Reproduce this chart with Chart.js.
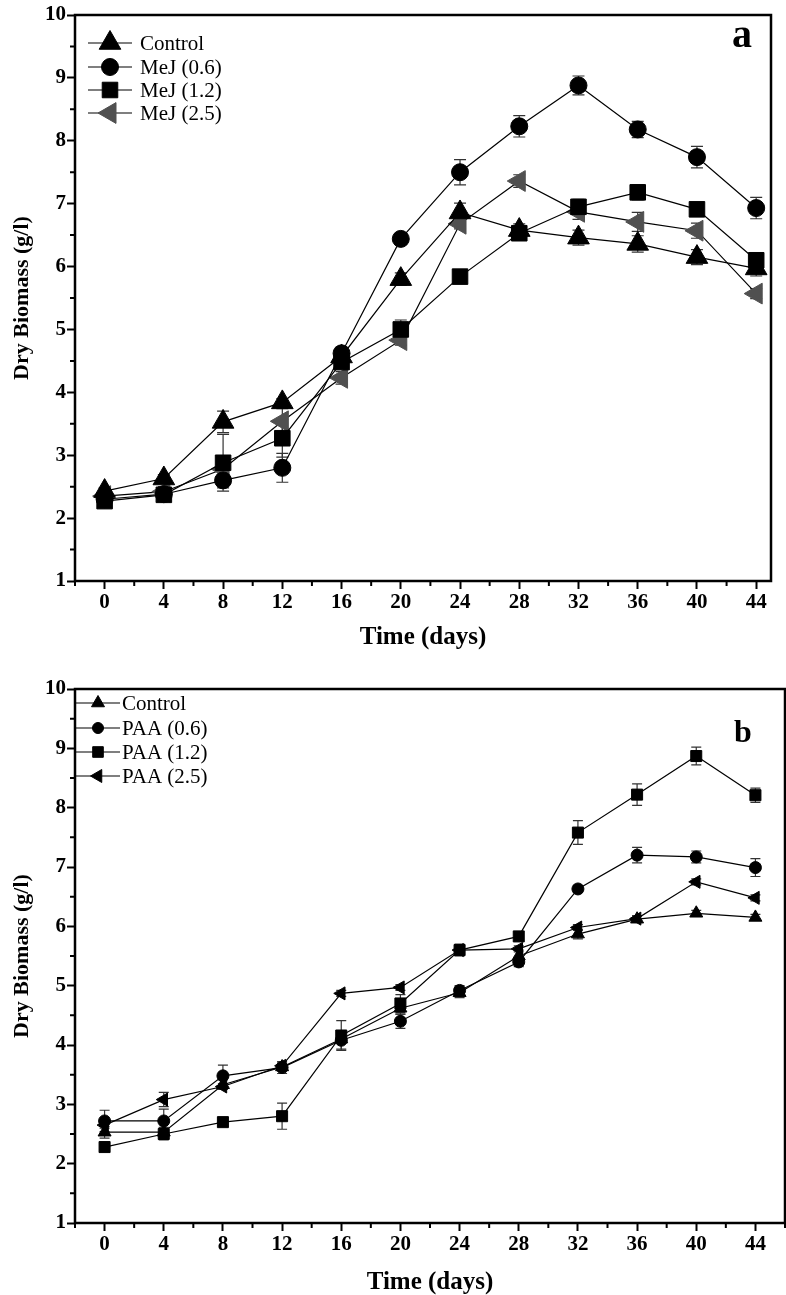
<!DOCTYPE html>
<html><head><meta charset="utf-8">
<script src="https://cdn.jsdelivr.net/npm/chart.js@4.4.1/dist/chart.umd.min.js"></script>
<style>
html,body{margin:0;padding:0;background:#fff;width:786px;height:1295px;overflow:hidden}
canvas{position:absolute;left:0;display:block}
#ca{top:0}#cb{top:650px}
</style></head><body>
<canvas id="ca" width="786" height="650" style="width:786px;height:650px"></canvas>
<canvas id="cb" width="786" height="645" style="width:786px;height:645px"></canvas>
<script>
// ---- data ----
const DAYS = [0, 4, 8, 12, 16, 20, 24, 28, 32, 36, 40, 44];
const X_TICKS = [0, 4, 8, 12, 16, 20, 24, 28, 32, 36, 40, 44];
const Y_TICKS = [1, 2, 3, 4, 5, 6, 7, 8, 9, 10];

// Panel a
const LABELS_A = ['Control', 'MeJ (0.6)', 'MeJ (1.2)', 'MeJ (2.5)'];
const CONTROL_A = [2.43, 2.63, 3.53, 3.84, 4.57, 5.80, 6.86, 6.58, 6.46, 6.36, 6.15, 5.97];
const MEJ06_A   = [2.30, 2.38, 2.60, 2.80, 4.62, 6.44, 7.50, 8.23, 8.88, 8.18, 7.74, 6.93];
const MEJ12_A   = [2.27, 2.37, 2.88, 3.27, 4.48, 5.00, 5.84, 6.53, 6.95, 7.18, 6.91, 6.10];
const MEJ25_A   = [2.35, 2.42, 2.78, 3.54, 4.23, 4.83, 6.68, 7.36, 6.87, 6.71, 6.57, 5.57];
const CONTROL_A_ERR = [0.05, 0.06, 0.17, 0.06, 0.08, 0.10, 0.15, 0.10, 0.12, 0.13, 0.12, 0.12];
const MEJ06_A_ERR   = [0.05, 0.10, 0.12, 0.23, 0.10, 0.08, 0.20, 0.17, 0.15, 0.13, 0.17, 0.17];
const MEJ12_A_ERR   = [0.05, 0.08, 0.45, 0.30, 0.10, 0.15, 0.10, 0.07, 0.12, 0.12, 0.05, 0.08];
const MEJ25_A_ERR   = [0.05, 0.08, 0.12, 0.20, 0.10, 0.08, 0.08, 0.10, 0.12, 0.15, 0.12, 0.08];

// Panel b
const LABELS_B = ['Control', 'PAA (0.6)', 'PAA (1.2)', 'PAA (2.5)'];
const CONTROL_B = [2.53, 2.53, 3.33, 3.63, 4.10, 4.62, 4.88, 5.50, 5.87, 6.12, 6.22, 6.15];
const PAA06_B   = [2.72, 2.72, 3.48, 3.62, 4.08, 4.40, 4.92, 5.40, 6.63, 7.20, 7.17, 6.99];
const PAA12_B   = [2.28, 2.50, 2.70, 2.80, 4.16, 4.70, 5.60, 5.83, 7.58, 8.22, 8.87, 8.21];
const PAA25_B   = [2.65, 3.08, 3.30, 3.65, 4.87, 4.97, 5.60, 5.62, 5.98, 6.13, 6.75, 6.48];
const CONTROL_B_ERR = [0.10, 0.08, 0.08, 0.05, 0.05, 0.10, 0.08, 0.10, 0.08, 0.05, 0.05, 0.05];
const PAA06_B_ERR   = [0.18, 0.20, 0.18, 0.10, 0.15, 0.12, 0.08, 0.08, 0.06, 0.13, 0.10, 0.15];
const PAA12_B_ERR   = [0.05, 0.10, 0.05, 0.22, 0.25, 0.15, 0.10, 0.07, 0.20, 0.18, 0.15, 0.12];
const PAA25_B_ERR   = [0.05, 0.12, 0.05, 0.05, 0.05, 0.05, 0.08, 0.05, 0.05, 0.05, 0.05, 0.05];

// ---- rendering ----
const SERIF = '"Liberation Serif", "Times New Roman", serif';
const GRAY = '#505050';

function pts(vals) { return DAYS.map((d, i) => ({ x: d, y: vals[i] })); }

function drawGlyph(ctx, style, rot, r, x, y, color) {
  ctx.save();
  ctx.fillStyle = color; ctx.strokeStyle = color; ctx.lineWidth = 1;
  ctx.beginPath();
  if (style === 'circle') {
    ctx.arc(x, y, r, 0, Math.PI * 2);
  } else if (style === 'rect') {
    const s = Math.SQRT1_2 * r;
    ctx.rect(x - s, y - s, 2 * s, 2 * s);
  } else {
    let a = rot * Math.PI / 180;
    ctx.moveTo(x + Math.sin(a) * r, y - Math.cos(a) * r);
    a += 2 * Math.PI / 3;
    ctx.lineTo(x + Math.sin(a) * r, y - Math.cos(a) * r);
    a += 2 * Math.PI / 3;
    ctx.lineTo(x + Math.sin(a) * r, y - Math.cos(a) * r);
    ctx.closePath();
  }
  ctx.fill(); ctx.stroke();
  ctx.restore();
}

function buildChart(canvasId, p) {
  const datasets = p.series.map(s => ({
    label: s.label,
    data: pts(s.values),
    errors: s.err,
    borderColor: '#000',
    borderWidth: 1.2,
    backgroundColor: s.color,
    pointBackgroundColor: s.color,
    pointBorderColor: s.color,
    pointBorderWidth: 1,
    pointStyle: s.style,
    pointRotation: s.rot,
    pointRadius: s.r,
    legendR: s.lr,
    tension: 0,
    fill: false
  }));

  const plugins = [{
    id: 'errbars',
    beforeDatasetsDraw(chart) {
      const ctx = chart.ctx, xs = chart.scales.x, ys = chart.scales.y;
      ctx.save();
      ctx.strokeStyle = '#333'; ctx.lineWidth = 1.2;
      chart.data.datasets.forEach(ds => {
        ds.data.forEach((pt, i) => {
          const e = ds.errors[i];
          const x = xs.getPixelForValue(pt.x);
          const y1 = ys.getPixelForValue(pt.y + e), y2 = ys.getPixelForValue(pt.y - e);
          ctx.beginPath();
          ctx.moveTo(x, y1); ctx.lineTo(x, y2);
          ctx.moveTo(x - p.cap, y1); ctx.lineTo(x + p.cap, y1);
          ctx.moveTo(x - p.cap, y2); ctx.lineTo(x + p.cap, y2);
          ctx.stroke();
        });
      });
      ctx.restore();
    },
    afterDraw(chart) {
      const ctx = chart.ctx, a = chart.chartArea, xs = chart.scales.x, ys = chart.scales.y;
      ctx.save();
      // frame
      ctx.strokeStyle = '#000'; ctx.lineWidth = 2.5;
      ctx.strokeRect(a.left, a.top, a.right - a.left, a.bottom - a.top);
      // minor ticks
      ctx.lineWidth = 2;
      ctx.beginPath();
      for (let v = -2; v <= xs.max + 0.01; v += 4) {
        const x = xs.getPixelForValue(v);
        ctx.moveTo(x, a.bottom); ctx.lineTo(x, a.bottom + 5);
      }
      for (let v = 1.5; v < 10; v += 1) {
        const y = ys.getPixelForValue(v);
        ctx.moveTo(a.left, y); ctx.lineTo(a.left - 5, y);
      }
      ctx.stroke();
      // legend
      ctx.font = p.legendFont + 'px ' + SERIF;
      ctx.textBaseline = 'middle'; ctx.textAlign = 'left';
      chart.data.datasets.forEach((ds, i) => {
        const y = p.legY[i];
        ctx.strokeStyle = '#000'; ctx.lineWidth = 1.2;
        ctx.beginPath(); ctx.moveTo(p.legX0, y); ctx.lineTo(p.legX1, y); ctx.stroke();
        drawGlyph(ctx, ds.pointStyle, ds.pointRotation, ds.legendR, p.legMX, y, ds.pointBackgroundColor);
        ctx.fillStyle = '#000';
        ctx.fillText(ds.label, p.legTX, y + 1);
      });
      // panel letter
      ctx.font = 'bold ' + p.letterSize + 'px ' + SERIF;
      ctx.textAlign = 'center'; ctx.textBaseline = 'alphabetic';
      ctx.fillStyle = '#000';
      ctx.fillText(p.letter, p.letterX, p.letterY);
      ctx.restore();
    }
  }];

  return new Chart(document.getElementById(canvasId), {
    type: 'line',
    data: { datasets },
    plugins,
    options: {
      responsive: false,
      animation: false,
      devicePixelRatio: 1,
      layout: { autoPadding: false, padding: { top: p.padTop, right: p.padRight, left: 0, bottom: 0 } },
      plugins: { legend: { display: false }, tooltip: { enabled: false } },
      scales: {
        x: {
          type: 'linear', min: -2, max: p.xMax,
          afterBuildTicks: s => { s.ticks = X_TICKS.map(v => ({ value: v })); },
          afterFit: s => { s.height = p.xAxisH; s.paddingLeft = 0; s.paddingRight = 0; },
          ticks: { color: '#000', padding: 1, autoSkip: false, maxRotation: 0,
                   font: { family: SERIF, size: 21, weight: 'bold' } },
          grid: { display: true, drawOnChartArea: false, drawTicks: true, tickLength: 8, tickWidth: 2, tickColor: '#000' },
          border: { display: false },
          title: { display: true, text: 'Time (days)', color: '#000',
                   font: { family: SERIF, size: 25, weight: 'bold' }, padding: { top: 0, bottom: -3 } }
        },
        y: {
          type: 'linear', min: 1, max: 10,
          afterBuildTicks: s => { s.ticks = Y_TICKS.map(v => ({ value: v })); },
          afterFit: s => { s.width = 75; },
          ticks: { color: '#000', padding: 1, autoSkip: false,
                   font: { family: SERIF, size: 21, weight: 'bold' } },
          grid: { display: true, drawOnChartArea: false, drawTicks: true, tickLength: 8, tickWidth: 2, tickColor: '#000' },
          border: { display: false },
          title: { display: true, text: 'Dry Biomass (g/l)', color: '#000',
                   font: { family: SERIF, size: 22, weight: 'bold' }, padding: { top: 9, bottom: 0 } }
        }
      }
    }
  });
}

buildChart('ca', {
  series: [
    { label: LABELS_A[0], values: CONTROL_A, err: CONTROL_A_ERR, style: 'triangle', rot: 0,   r: 12.5, lr: 12.5, color: '#000' },
    { label: LABELS_A[1], values: MEJ06_A,   err: MEJ06_A_ERR,   style: 'circle',   rot: 0,   r: 8.5,  lr: 8.5,  color: '#000' },
    { label: LABELS_A[2], values: MEJ12_A,   err: MEJ12_A_ERR,   style: 'rect',     rot: 0,   r: 11,   lr: 11,   color: '#000' },
    { label: LABELS_A[3], values: MEJ25_A,   err: MEJ25_A_ERR,   style: 'triangle', rot: -90, r: 12,   lr: 12,   color: GRAY }
  ],
  xMax: 45, padTop: 15, padRight: 15, xAxisH: 69, cap: 6,
  legY: [43, 67, 90, 113], legX0: 88, legX1: 132, legMX: 110, legTX: 140, legendFont: 21,
  letter: 'a', letterSize: 40, letterX: 742, letterY: 47
});

buildChart('cb', {
  series: [
    { label: LABELS_B[0], values: CONTROL_B, err: CONTROL_B_ERR, style: 'triangle', rot: 0,   r: 7.5, lr: 7.5, color: '#000' },
    { label: LABELS_B[1], values: PAA06_B,   err: PAA06_B_ERR,   style: 'circle',   rot: 0,   r: 6,   lr: 5.5, color: '#000' },
    { label: LABELS_B[2], values: PAA12_B,   err: PAA12_B_ERR,   style: 'rect',     rot: 0,   r: 7.8, lr: 7.5, color: '#000' },
    { label: LABELS_B[3], values: PAA25_B,   err: PAA25_B_ERR,   style: 'triangle', rot: -90, r: 7.5, lr: 7.5, color: '#000' }
  ],
  xMax: 46, padTop: 39, padRight: 1, xAxisH: 72, cap: 5,
  legY: [53, 78, 102, 126], legX0: 75, legX1: 120, legMX: 98, legTX: 122, legendFont: 21,
  letter: 'b', letterSize: 32, letterX: 743, letterY: 92
});
</script>
</body></html>
